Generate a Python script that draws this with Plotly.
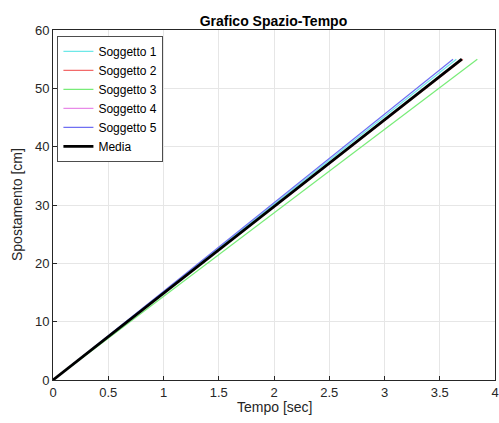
import plotly.graph_objects as go

names = ["Soggetto 1", "Soggetto 2", "Soggetto 3", "Soggetto 4", "Soggetto 5", "Media"]
t_start = [0, 0, 0, 0, 0, 0]
t_end = [3.65, 3.71, 3.84, 3.70, 3.62, 3.70]
s_start = [0, 0, 0, 0, 0, 0]
s_end = [55, 55, 55, 55, 55, 55]
colors = ["#6ee8e8", "#f26a6a", "#78ec78", "#e88ae8", "#6f6ff2", "#000000"]
widths = [1.2, 1.2, 1.2, 1.2, 1.2, 2.8]

x_ticks = [0, 0.5, 1, 1.5, 2, 2.5, 3, 3.5, 4]
x_labels = ["0", "0.5", "1", "1.5", "2", "2.5", "3", "3.5", "4"]
y_ticks = [0, 10, 20, 30, 40, 50, 60]

fig = go.Figure()
for i, n in enumerate(names):
    fig.add_trace(go.Scatter(
        x=[t_start[i], t_end[i]], y=[s_start[i], s_end[i]],
        mode="lines", name=n,
        line=dict(color=colors[i], width=widths[i]),
    ))

font_family = "Liberation Sans, Arial, sans-serif"
fig.update_layout(
    width=499, height=423,
    margin=dict(l=53, r=4, t=30, b=43, autoexpand=False),
    paper_bgcolor="white", plot_bgcolor="white",
    font=dict(family=font_family, size=13, color="#262626"),
    title=dict(text="<b>Grafico Spazio-Tempo</b>", x=0.548, xanchor="center",
               y=0.950, yanchor="middle", font=dict(size=14, color="#000000")),
    showlegend=True,
    legend=dict(x=0.01, y=0.983, xanchor="left", yanchor="top",
                bgcolor="white", bordercolor="#4d4d4d", borderwidth=1,
                font=dict(size=12, color="#000000"), tracegroupgap=0,
                itemwidth=30),
    annotations=[
        dict(text="Tempo [sec]", xref="paper", yref="paper", x=0.5, y=0,
             yshift=-17, xanchor="center", yanchor="top", showarrow=False,
             font=dict(size=14, color="#262626")),
        dict(text="Spostamento [cm]", xref="paper", yref="paper", x=0, y=0.5,
             xshift=-26, xanchor="right", yanchor="middle", showarrow=False,
             textangle=-90, font=dict(size=14, color="#262626")),
    ],
)
fig.update_xaxes(
    range=[0, 4], tickvals=x_ticks, ticktext=x_labels, automargin=False,
    showgrid=True, gridcolor="#e6e6e6", gridwidth=1,
    showline=True, linecolor="#262626", linewidth=1, mirror=True,
    ticks="inside", ticklen=4, tickcolor="#262626",
    zeroline=False,
)
fig.update_yaxes(
    range=[0, 60], tickvals=y_ticks, automargin=False,
    showgrid=True, gridcolor="#e6e6e6", gridwidth=1,
    showline=True, linecolor="#262626", linewidth=1, mirror=True,
    ticks="inside", ticklen=4, tickcolor="#262626",
    zeroline=False,
)

fig.write_html("out.html", config={"displayModeBar": False},
               post_script="document.body.style.margin='0';document.body.style.overflow='hidden';")
